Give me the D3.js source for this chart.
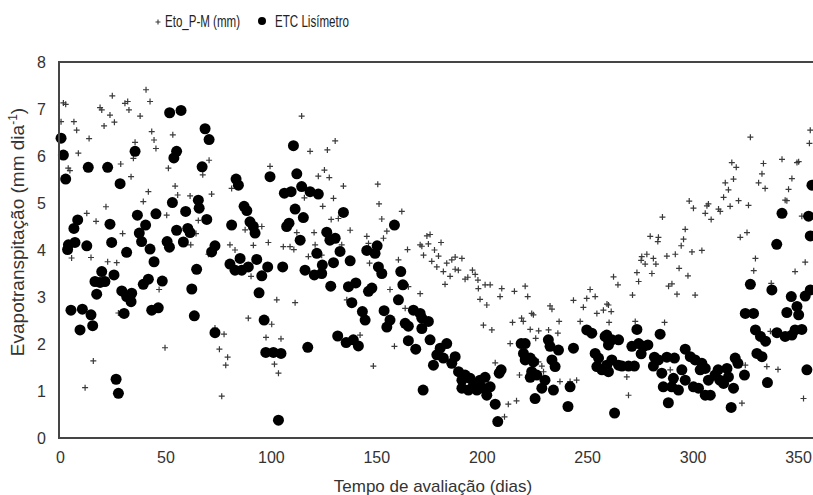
<!DOCTYPE html>
<html><head><meta charset="utf-8">
<script src="https://cdn.jsdelivr.net/npm/d3@7"></script>
<style>html,body{margin:0;padding:0;background:#fff;}svg{display:block;}</style>
</head><body>
<svg id="chart" width="813" height="495"></svg>
<script>
// Eto_P-M (mm) — crosses
const etoDays = [0.5,1.6,2.7,3.9,4.7,5.5,6.6,7.9,8.7,11.9,12.7,13.8,14.7,15.8,17.1,19.0,19.8,20.9,21.8,22.6,23.7,24.8,25.8,26.9,27.7,28.8,29.7,30.8,32.1,32.7,33.7,34.8,35.6,38.0,39.5,40.8,41.9,42.7,43.5,44.6,45.5,47.0,49.8,50.6,51.4,53.5,54.6,55.8,61.7,62.0,64.5,65.6,67.7,70.4,70.7,71.9,73.5,75.6,76.7,77.8,78.6,79.5,80.6,81.4,83.0,87.8,89.3,90.6,91.7,95.7,97.7,98.8,99.6,100.4,101.7,102.8,103.6,104.8,105.9,109.1,110.9,111.5,112.3,114.6,115.9,117.8,118.6,120.5,121.0,122.5,124.1,124.6,125.4,126.8,127.7,128.6,129.7,130.5,132.0,133.6,134.4,136.0,137.6,142.3,145.5,146.3,146.8,148.6,150.7,151.3,152.6,153.4,155.0,156.5,158.6,160.5,162.1,163.7,164.8,165.2,170.8,170.8,171.6,172.4,174.0,174.7,175.5,176.3,177.6,178.7,179.5,180.7,181.8,182.6,183.4,185.0,185.8,187.4,187.4,188.9,190.6,192.1,193.4,195.6,196.9,198.2,198.4,199.2,200.8,201.6,202.4,204.0,204.8,206.4,208.7,209.5,210.8,212.6,213.5,214.6,215.5,216.5,217.9,218.9,219.7,220.6,221.8,223.0,223.7,224.5,225.6,226.9,227.0,228.5,229.3,231.7,232.4,233.3,236.1,236.7,237.1,241.9,243.5,245.0,246.7,248.2,249.8,251.4,253.8,254.6,257.7,259.4,260.1,260.4,261.4,262.5,264.6,268.8,269.6,271.5,272.8,273.6,274.4,275.6,275.9,277.5,278.3,279.9,280.7,281.4,282.6,283.5,283.8,285.7,286.7,287.8,288.6,289.4,290.2,291.8,292.6,293.6,294.6,295.7,296.5,297.8,298.4,299.7,300.4,301.2,304.4,306.0,306.8,307.5,308.8,312.3,313.1,314.7,315.5,317.0,317.8,318.6,319.4,320.7,321.8,322.6,323.4,325.0,325.8,326.5,327.4,329.0,329.8,331.3,332.9,333.6,334.4,335.2,336.9,337.3,340.5,342.4,343.9,344.7,345.5,347.1,348.6,349.5,350.3,351.8,352.6,353.4,355.4,355.8];
const etoValues = [6.73,7.13,7.10,5.74,5.69,3.83,6.73,6.55,6.06,1.07,4.78,6.37,3.84,1.64,4.61,7.03,6.98,6.64,4.92,3.75,6.87,7.28,6.72,3.73,2.66,5.83,4.35,7.12,7.16,6.98,5.56,5.95,6.29,6.85,5.03,7.41,5.24,7.16,6.52,6.34,6.16,3.16,1.92,4.74,5.74,6.45,5.36,5.17,5.15,4.11,4.35,4.63,5.60,3.91,5.91,5.19,2.34,1.89,0.89,2.21,1.55,1.72,4.11,5.31,4.00,4.43,2.55,3.44,4.10,4.50,2.14,4.16,5.78,2.42,1.57,2.94,1.38,2.11,4.07,4.07,4.01,2.88,4.37,6.85,5.11,3.86,6.10,4.37,4.11,5.57,3.89,4.93,5.70,6.13,5.54,4.65,5.10,6.32,4.67,4.11,5.36,2.94,4.42,2.19,4.29,4.14,3.72,1.53,5.40,4.98,4.66,4.25,4.40,3.16,1.95,3.79,4.82,2.76,4.01,3.22,4.11,3.07,4.08,3.89,4.30,4.13,4.33,3.76,4.00,3.64,3.87,4.16,3.54,3.27,3.72,3.44,3.79,3.85,3.59,3.57,3.82,3.38,3.42,3.57,3.48,3.36,3.18,2.95,2.40,3.26,2.83,3.26,2.30,1.60,3.01,3.18,0.45,0.72,2.01,2.46,3.12,0.79,1.34,2.55,2.48,3.23,3.01,2.31,2.65,2.62,2.12,1.62,2.28,1.53,1.41,2.30,2.81,2.74,2.23,2.48,1.20,1.20,2.93,1.23,2.48,2.78,2.97,3.16,3.01,2.65,2.72,2.85,2.83,2.46,2.69,3.43,3.26,1.30,0.91,3.04,2.48,3.52,3.33,3.78,3.86,3.70,3.91,4.29,3.50,3.82,3.70,4.18,4.27,4.70,2.46,3.87,3.23,1.45,3.28,3.91,3.06,3.61,4.09,4.23,4.44,3.45,5.04,3.96,4.89,3.04,3.99,4.78,4.94,4.98,4.65,4.87,4.82,5.12,5.43,5.28,4.93,5.86,5.51,5.76,5.05,4.27,0.74,1.55,4.37,4.95,6.40,3.56,3.82,5.43,5.62,5.84,5.31,1.52,2.27,3.29,1.46,5.93,5.06,5.05,5.29,5.52,3.54,5.86,5.88,4.72,0.84,3.74,6.27,6.55];

// ETC Lisímetro — filled circles
const etcDays = [0.5,1.6,2.7,3.6,4.0,5.2,6.6,7.1,8.4,9.5,10.6,12.7,13.4,14.7,15.5,16.6,17.4,19.0,19.8,21.3,22.6,23.7,24.5,25.6,26.6,27.7,28.5,29.3,30.4,31.6,31.6,33.7,34.0,35.6,36.7,37.6,38.7,39.5,40.6,41.9,42.7,43.5,44.6,45.5,46.6,48.5,50.8,51.9,52.0,53.3,54.0,55.3,55.3,57.4,58.5,59.6,60.6,61.7,62.5,63.7,64.8,65.6,66.0,67.4,68.8,69.6,70.7,71.9,73.5,73.5,80.6,81.4,83.0,83.5,84.6,85.4,86.2,87.3,88.6,89.3,90.1,91.7,92.5,93.3,94.4,95.7,96.8,97.6,98.5,99.6,101.2,103.6,104.8,105.6,106.4,107.5,108.6,109.6,110.7,111.5,112.3,113.9,114.6,115.4,116.2,117.5,118.6,120.6,121.8,122.5,124.1,124.4,126.5,128.0,128.4,129.7,130.5,131.7,132.8,134.4,135.7,136.8,137.6,138.4,139.1,140.3,141.5,143.4,144.7,145.5,146.3,147.9,149.4,150.4,151.0,152.6,153.7,155.0,156.5,158.6,160.5,161.6,162.6,163.7,165.2,165.2,167.6,168.7,170.8,171.6,171.6,172.2,174.7,175.5,177.1,178.7,180.3,181.8,183.4,185.8,187.4,189.0,190.6,190.6,192.1,193.7,194.5,196.1,197.7,199.2,200.8,201.6,202.4,204.0,206.4,207.6,208.3,209.2,218.7,219.8,220.6,220.6,223.0,223.0,223.7,224.5,225.3,226.1,228.5,230.0,231.6,232.4,233.3,234.0,234.8,236.4,240.9,241.9,243.5,249.8,252.2,253.8,254.6,255.4,257.0,258.5,259.3,259.3,260.1,260.1,260.1,261.7,261.7,263.0,264.9,264.9,266.5,269.6,271.2,272.4,273.6,274.4,275.6,276.7,278.8,281.4,281.9,283.8,284.6,285.4,286.1,287.8,288.5,290.1,290.9,291.4,293.3,294.9,296.5,296.5,298.9,300.4,301.2,302.8,303.6,304.4,306.0,306.0,307.5,308.4,310.6,312.1,312.9,314.7,316.3,317.0,318.3,319.4,320.2,321.5,324.6,325.0,327.4,328.9,329.8,330.5,332.2,332.9,334.6,335.5,337.6,339.9,340.0,342.4,343.9,344.7,346.8,347.1,348.6,349.5,350.3,351.8,353.4,354.2,355.0,355.8,355.8,356.6];
const etcValues = [6.38,6.02,5.51,4.01,4.11,2.72,4.46,4.16,4.64,2.30,2.74,4.09,5.76,2.62,2.39,3.33,3.06,3.31,3.54,3.33,5.76,4.55,4.16,3.47,1.25,0.95,5.41,3.13,2.65,3.01,3.95,2.90,3.08,6.10,4.74,4.36,4.18,3.27,4.53,3.38,4.02,2.72,3.75,4.77,2.77,3.34,4.18,4.06,6.92,5.01,5.96,6.10,4.42,6.97,4.17,4.82,4.46,4.37,3.17,2.60,3.59,5.06,4.89,5.77,6.58,4.65,6.35,3.96,4.09,2.24,3.70,4.53,3.57,5.51,5.38,3.82,3.57,4.93,4.84,3.64,4.60,4.50,4.36,3.80,3.09,3.45,2.51,1.82,3.64,5.56,1.82,0.38,1.80,3.64,5.21,4.50,4.57,5.24,6.22,4.87,5.62,4.21,5.35,4.69,3.57,1.93,5.24,3.47,3.93,5.19,3.50,3.68,4.38,4.21,3.23,3.73,4.25,2.17,3.97,4.80,2.03,3.22,3.77,2.88,2.09,3.30,1.96,2.69,2.51,3.99,3.12,3.19,3.93,4.09,3.64,3.50,2.71,2.36,2.51,4.53,2.94,3.54,3.26,2.44,2.38,2.07,2.72,1.89,2.65,2.33,2.55,1.02,2.48,2.09,1.55,1.77,1.91,1.70,2.01,1.59,1.73,1.41,1.23,1.06,1.34,1.02,1.27,1.13,1.02,1.23,1.06,1.29,0.91,1.09,0.72,0.35,1.38,1.45,2.01,1.80,2.01,1.66,1.70,1.29,1.41,1.62,0.84,1.34,1.06,1.23,2.09,1.95,1.66,1.02,1.52,1.87,0.67,1.09,1.91,2.30,2.23,1.80,1.52,1.70,1.45,2.16,2.19,1.55,2.09,1.98,1.41,2.09,1.66,0.53,2.09,1.55,1.53,1.53,1.95,1.53,2.31,2.01,1.79,1.95,1.98,1.53,1.72,1.66,2.21,1.38,1.09,1.72,0.75,1.09,1.27,1.70,1.02,1.45,1.23,1.89,1.73,1.09,1.66,1.06,1.45,1.59,1.48,0.91,1.23,0.91,1.34,1.45,1.23,1.16,1.48,1.30,0.65,1.06,1.70,1.59,1.34,2.65,3.27,2.65,2.30,1.80,2.16,1.73,2.06,1.18,3.15,4.12,2.24,4.78,2.16,2.67,3.01,2.19,2.30,2.80,2.62,2.31,3.02,1.45,4.72,4.30,3.15,5.38];

const xTicks = [0,50,100,150,200,250,300,350];
const yTicks = [0,1,2,3,4,5,6,7,8];
const seriesNames = ["Eto_P-M (mm)", "ETC Lisímetro"];

const svg = d3.select("#chart");
const pLeft = 60, pRight = 813, pTop = 62, pBottom = 438;
const x = d3.scaleLinear().domain([0, 357.1]).range([pLeft, pRight]);
const y = d3.scaleLinear().domain([0, 8]).range([pBottom, pTop]);
const txt = "#333";
const font = "'Liberation Sans', Arial, sans-serif";

// crosses
const crossPath = "M-3,0H3M0,-3V3";
svg.append("g").selectAll("path").data(etoDays.map((d,i)=>[d, etoValues[i]])).join("path")
  .attr("d", crossPath)
  .attr("transform", d => `translate(${x(d[0])},${y(d[1])})`)
  .attr("stroke", "#3a3a3a").attr("stroke-width", 1.2).attr("fill", "none");

// circles
svg.append("g").selectAll("circle").data(etcDays.map((d,i)=>[d, etcValues[i]])).join("circle")
  .attr("cx", d => x(d[0])).attr("cy", d => y(d[1])).attr("r", 5.5).attr("fill", "#000");

// frame
const frame = svg.append("g").attr("stroke", "#454545").attr("stroke-width", 2).attr("fill", "none");
frame.append("line").attr("x1", pLeft-1).attr("x2", pLeft-1).attr("y1", pTop).attr("y2", pBottom);
frame.append("line").attr("x1", pLeft-2).attr("x2", pRight).attr("y1", pBottom).attr("y2", pBottom);
frame.append("line").attr("x1", pLeft-2).attr("x2", pRight).attr("y1", pTop).attr("y2", pTop);

// axes (labels only)
const xAxis = d3.axisBottom(x).tickValues(xTicks).tickSize(0).tickPadding(14);
const gx = svg.append("g").attr("transform", `translate(0,${pBottom})`).call(xAxis);
gx.select(".domain").remove();
gx.selectAll("text").attr("font-family", font).attr("font-size", 16).attr("fill", txt);

const yAxis = d3.axisLeft(y).tickValues(yTicks).tickSize(0).tickPadding(14);
const gy = svg.append("g").attr("transform", `translate(${pLeft},0)`).call(yAxis);
gy.select(".domain").remove();
gy.selectAll("text").attr("font-family", font).attr("font-size", 16).attr("fill", txt);

// axis titles
svg.append("text").attr("x", 433).attr("y", 492).attr("text-anchor", "middle")
  .attr("font-family", font).attr("font-size", 17).attr("fill", txt).text("Tempo de avaliação (dias)");
const yl = svg.append("text").attr("transform", "translate(24,232) rotate(-90)").attr("text-anchor", "middle")
  .attr("font-family", font).attr("font-size", 19).attr("fill", txt);
yl.append("tspan").text("Evapotranspitação (mm dia");
yl.append("tspan").attr("font-size", 12).attr("dy", -7).text("-1");
yl.append("tspan").attr("dy", 7).text(")");

// legend
const lg = svg.append("g");
lg.append("path").attr("d", "M-2.5,0H2.5M0,-2.5V2.5").attr("transform", "translate(158,22)")
  .attr("stroke", "#3a3a3a").attr("stroke-width", 1.1);
lg.append("text").attr("x", 165).attr("y", 27).attr("font-family", font).attr("font-size", 16)
  .attr("fill", "#222").attr("textLength", 75).attr("lengthAdjust", "spacingAndGlyphs").text(seriesNames[0]);
lg.append("circle").attr("cx", 262).attr("cy", 21).attr("r", 4).attr("fill", "#000");
lg.append("text").attr("x", 275).attr("y", 27).attr("font-family", font).attr("font-size", 16)
  .attr("fill", "#222").attr("textLength", 74).attr("lengthAdjust", "spacingAndGlyphs").text(seriesNames[1]);
</script>
</body></html>
